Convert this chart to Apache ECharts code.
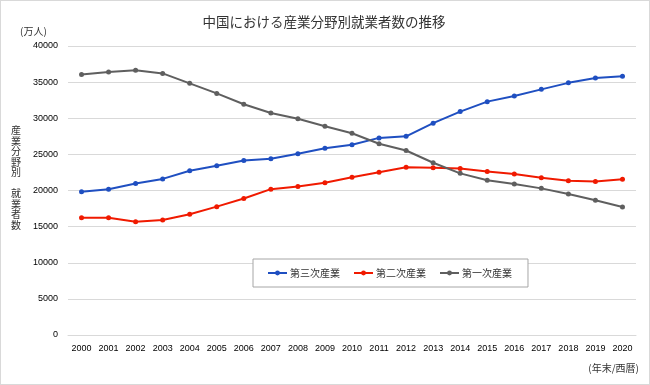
<!DOCTYPE html>
<html><head><meta charset="utf-8">
<script src="https://cdn.jsdelivr.net/npm/echarts@6/dist/echarts.min.js"></script>
<style>html,body{margin:0;padding:0;background:#fff}#c{width:650px;height:385px;box-sizing:border-box;border:1px solid #d9d9d9}</style>
</head><body><div id="c"></div>
<script>
const years = ['2000','2001','2002','2003','2004','2005','2006','2007','2008','2009','2010','2011','2012','2013','2014','2015','2016','2017','2018','2019','2020'];
const tertiary = [19823,20165,20958,21605,22725,23439,24143,24404,25087,25857,26332,27282,27493,29320,30920,32300,33080,34000,34900,35560,35806];
const secondary = [16219,16234,15682,15927,16709,17766,18894,20186,20553,21080,21842,22539,23226,23142,23057,22644,22295,21762,21356,21234,21543];
const primary = [36043,36399,36640,36204,34830,33442,31941,30731,29923,28890,27931,26472,25535,23838,22372,21418,20908,20295,19515,18652,17715];
const seriesNames = ['第三次産業','第二次産業','第一次産業'];
const yTicks = [0,5000,10000,15000,20000,25000,30000,35000,40000];

const font = '"Noto Sans CJK JP", "Liberation Sans", sans-serif';
const colors = ['#1F4FC1','#F01A00','#5F5F5F'];
const chart = echarts.init(document.getElementById('c'));
const mk = (name, data, color) => ({
  name, type: 'line', data,
  symbol: 'circle', symbolSize: 5, showSymbol: true,
  lineStyle: {width: 2, color}, itemStyle: {color},
  animation: false
});
chart.setOption({
  animation: false,
  textStyle: {fontFamily: font},
  title: {text: '中国における産業分野別就業者数の推移', left: 318, top: 9, textAlign: 'center',
    textStyle: {fontSize: 13.5, fontWeight: 'normal', color: '#333', fontFamily: font}},
  grid: {left: 67, right: 13, top: 45, bottom: 49, containLabel: false},
  legend: {
    data: seriesNames, left: 252, top: 258, orient: 'horizontal',
    padding: [9, 16, 9, 14], itemGap: 13,
    borderColor: '#a6a6a6', borderWidth: 1, backgroundColor: '#fff',
    itemWidth: 19, itemHeight: 6,
    textStyle: {fontSize: 10, color: '#333', fontFamily: font, padding: [0, 0, 0, -2]}
  },
  xAxis: {type: 'category', data: years, boundaryGap: true,
    axisLine: {show: true, lineStyle: {color: '#d9d9d9'}}, axisTick: {show: false},
    axisLabel: {fontSize: 9, color: '#000', margin: 9, interval: 0, fontFamily: '"Liberation Sans", sans-serif'}},
  yAxis: {type: 'value', min: 0, max: 40000, interval: 5000,
    axisLine: {show: false}, axisTick: {show: false},
    splitLine: {lineStyle: {color: '#d9d9d9', width: 1}},
    axisLabel: {fontSize: 9, color: '#000', margin: 10, fontFamily: '"Liberation Sans", sans-serif',
      formatter: v => yTicks.includes(v) ? String(v) : ''}},
  graphic: [
    {type: 'text', left: 19, top: 25, style: {text: '(万人)', fontSize: 10, fill: '#333', fontFamily: font}},
    {type: 'text', left: 10, top: 124, style: {text: '産\n業\n分\n野\n別\n\n就\n業\n者\n数', fontSize: 10, lineHeight: 10.5, fill: '#333', fontFamily: font}},
    {type: 'text', right: 10, top: 362, style: {text: '(年末/西暦)', fontSize: 10, fill: '#333', fontFamily: font}}
  ],
  series: [mk(seriesNames[0], tertiary, colors[0]), mk(seriesNames[1], secondary, colors[1]), mk(seriesNames[2], primary, colors[2])]
});
</script></body></html>
